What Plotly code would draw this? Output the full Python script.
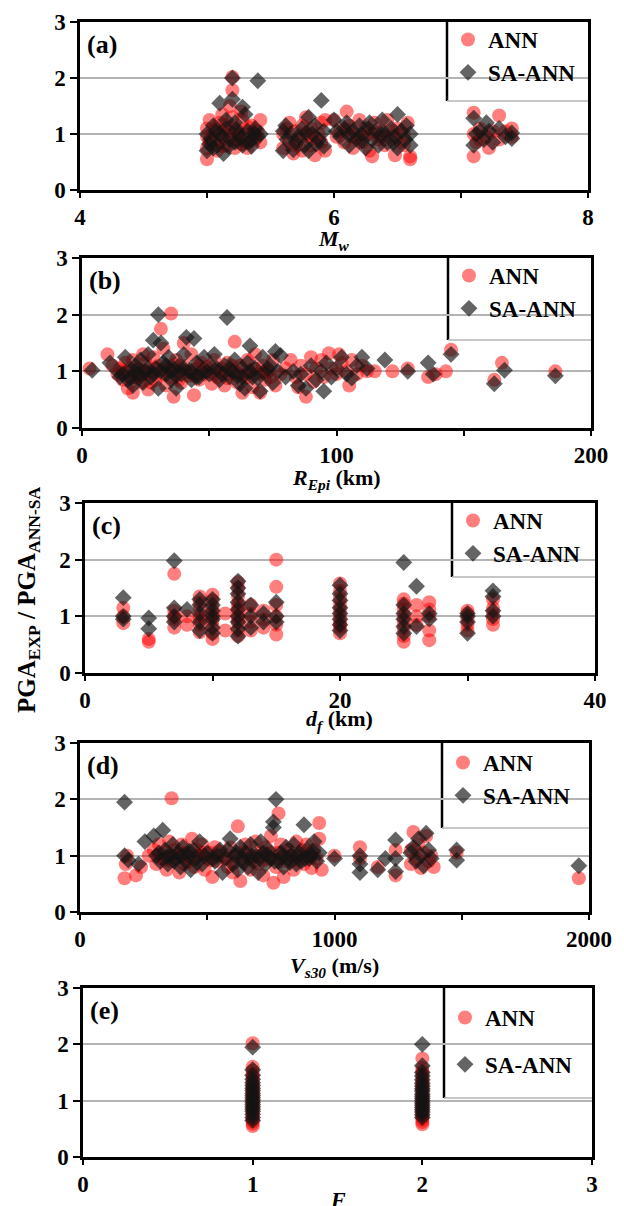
import plotly.graph_objects as go

W, H = 624, 1206
FONT = "Liberation Serif, Times New Roman, serif"

# ---------------- data (x, ratio) ----------------
a_ann = [(5.00,0.55),(5.00,0.75),(5.00,0.95),(5.00,1.10),(5.02,1.25),(5.05,0.85),(5.05,1.05),(5.08,0.70),
         (5.10,1.20),(5.10,0.90),(5.12,1.00),(5.15,0.80),(5.15,1.15),(5.18,0.95),(5.20,2.02),(5.20,1.78),
         (5.20,1.30),(5.22,1.10),(5.22,0.75),(5.25,0.90),(5.25,1.05),(5.28,1.25),(5.30,0.85),(5.30,1.00),
         (5.32,0.75),(5.35,1.15),(5.38,0.90),(5.40,1.05),(5.42,1.25),(5.42,0.85),(5.12,1.35),(5.18,1.50),
         (5.27,1.40),(5.02,0.88),(5.07,1.12),(5.13,0.78),(5.17,1.05),(5.23,0.95),(5.27,0.82),(5.33,1.12),
         (5.37,1.00),
         (5.60,0.75),(5.60,1.00),(5.62,1.10),(5.65,0.85),(5.68,0.65),(5.70,1.05),(5.72,0.90),(5.75,1.15),
         (5.75,0.70),(5.78,1.30),(5.80,0.95),(5.82,0.80),(5.82,1.10),(5.85,0.62),(5.88,1.00),(5.90,1.20),
         (5.90,0.85),(5.93,1.25),(5.93,0.70),(5.65,1.20),(5.70,0.80),(5.78,1.00),(5.86,0.92),
         (6.00,1.25),(6.05,1.05),(6.08,0.85),(6.10,1.40),(6.12,1.15),(6.15,0.95),(6.15,0.75),(6.18,1.00),
         (6.20,1.25),(6.22,0.85),(6.25,1.10),(6.28,0.70),(6.30,0.60),(6.30,1.00),(6.32,1.20),(6.35,0.90),
         (6.38,1.05),(6.40,0.80),(6.42,1.25),(6.45,0.95),(6.48,0.62),(6.50,1.10),(6.52,0.85),(6.55,1.00),
         (6.58,1.20),(6.60,0.60),(6.60,0.55),(6.02,0.95),(6.10,1.08),(6.20,0.92),(6.27,1.02),(6.37,0.95),
         (6.47,1.05),(6.55,0.80),
         (7.10,1.38),(7.10,0.60),(7.10,1.00),(7.12,0.85),(7.15,1.10),(7.20,0.95),(7.22,0.75),(7.25,1.05),
         (7.30,1.33),(7.30,0.90),(7.35,1.05),(7.40,1.10),(7.40,0.95),(7.15,0.90)]
a_sa = [(5.00,0.70),(5.00,1.00),(5.03,0.90),(5.05,1.15),(5.08,0.80),(5.10,1.55),(5.10,1.00),(5.13,0.65),
        (5.15,1.10),(5.18,0.90),(5.20,2.00),(5.20,1.62),(5.22,1.20),(5.22,0.85),(5.25,1.00),(5.28,1.48),
        (5.28,0.80),(5.30,1.35),(5.32,1.05),(5.35,0.90),(5.38,1.10),(5.40,1.95),(5.40,0.95),(5.42,1.00),
        (5.05,0.75),(5.15,1.25),(5.35,0.78),(5.02,0.82),(5.07,1.05),(5.12,0.95),(5.17,0.78),(5.23,1.08),
        (5.27,0.92),(5.33,0.85),(5.37,1.02),
        (5.60,0.70),(5.60,1.05),(5.63,0.90),(5.66,1.00),(5.68,0.72),(5.72,0.95),(5.75,1.10),(5.77,0.80),
        (5.80,1.30),(5.80,0.70),(5.83,1.00),(5.85,1.15),(5.88,0.90),(5.90,1.60),(5.92,1.05),(5.92,0.78),
        (5.62,1.15),(5.70,0.85),(5.78,1.02),(5.86,0.82),
        (6.00,1.25),(6.05,0.95),(6.08,1.10),(6.10,1.20),(6.12,0.80),(6.15,1.05),(6.18,0.90),(6.20,1.15),
        (6.22,1.00),(6.25,0.75),(6.28,1.20),(6.30,0.90),(6.33,1.05),(6.35,0.80),(6.38,1.25),(6.40,1.00),
        (6.42,0.85),(6.45,1.10),(6.48,0.95),(6.50,1.35),(6.50,0.75),(6.53,1.05),(6.56,0.90),(6.60,1.00),
        (6.60,0.80),(6.02,1.05),(6.12,0.98),(6.22,0.88),(6.27,1.10),(6.37,1.00),(6.47,0.85),(6.57,1.15),
        (7.10,1.28),(7.10,0.80),(7.12,1.00),(7.18,0.90),(7.20,1.20),(7.22,1.05),(7.25,0.85),(7.30,1.10),
        (7.35,0.95),(7.40,1.02),(7.40,0.92),(7.15,1.05)]

b_ann = [(3,1.05),(10,1.30),(12,1.10),(14,0.95),(15,1.05),(16,0.85),(17,1.15),(18,0.70),(18,1.00),(20,0.62),
         (20,1.20),(21,0.90),(22,1.05),(23,0.80),(24,1.30),(25,0.95),(25,1.15),(26,0.68),(27,1.00),(28,1.25),
         (29,0.85),(30,1.10),(31,1.75),(31,0.95),(32,1.40),(33,0.75),(34,1.05),(35,2.02),(35,0.90),(36,0.55),
         (37,1.20),(38,1.00),(39,0.80),(40,1.50),(40,1.10),(42,0.92),(43,1.30),(44,0.58),(45,1.05),(46,0.85),
         (47,1.15),(48,0.95),(50,1.00),(51,0.78),(52,1.20),(53,0.90),(55,1.05),(56,0.75),(57,1.15),(58,0.95),
         (60,1.52),(60,1.00),(61,0.80),(62,1.10),(63,0.62),(64,0.92),(65,1.20),(66,1.00),(67,0.72),(68,1.30),
         (69,0.95),(70,0.62),(71,1.10),(72,0.85),(73,1.00),(75,1.20),(76,0.75),(78,0.95),(80,1.05),(82,1.20),
         (84,0.90),(85,0.72),(86,1.10),(88,0.55),(88,0.95),(90,1.25),(91,0.82),(92,1.05),(94,1.20),(95,0.90),
         (97,1.32),(98,1.05),(100,0.95),(101,1.30),(102,1.15),(104,1.00),(105,0.75),(106,1.20),(108,0.95),
         (110,1.10),(112,1.00),(115,1.00),(122,1.00),(128,1.05),(136,0.90),(139,0.95),(143,1.00),(145,1.38),
         (162,0.85),(165,1.15),(186,1.00),
         (16,1.00),(19,0.90),(22,0.88),(24,1.00),(27,0.80),(29,1.05),(33,1.00),(36,1.12),(38,0.85),(41,1.00),
         (44,0.92),(46,1.10),(49,1.08),(52,0.95),(54,1.00),(57,0.88),(59,1.10),(62,0.95),(65,0.90),(68,1.05),
         (72,1.00),(74,0.90)]
b_sa = [(4,1.02),(11,1.15),(14,1.00),(15,0.90),(17,1.25),(18,0.85),(19,1.05),(20,0.75),(21,1.10),(22,0.95),
        (23,1.20),(24,0.80),(25,1.00),(26,1.30),(27,0.90),(28,1.55),(29,1.05),(30,2.00),(30,0.70),(31,1.50),
        (32,1.15),(33,0.95),(34,1.25),(35,0.85),(36,1.05),(37,0.70),(38,1.10),(39,0.95),(40,1.30),(41,1.60),
        (42,1.00),(43,0.85),(44,1.58),(45,1.15),(46,0.90),(47,1.00),(48,1.25),(50,0.95),(52,1.30),(53,1.05),
        (54,0.85),(56,1.10),(57,1.95),(58,0.90),(59,1.00),(60,1.20),(62,0.78),(63,1.05),(64,0.70),(65,1.15),
        (66,1.45),(67,0.90),(68,1.05),(70,0.65),(71,1.25),(72,0.95),(74,1.10),(75,0.80),(76,1.35),(77,1.00),
        (78,1.28),(80,0.90),(83,1.00),(85,0.75),(86,0.95),(88,0.70),(90,1.10),(92,0.85),(94,1.00),(95,0.65),
        (96,1.15),(98,0.90),(100,1.05),(102,1.25),(104,0.95),(106,0.88),(108,1.10),(110,1.25),(112,1.05),
        (119,1.20),(128,1.00),(136,1.15),(138,0.95),(145,1.30),(162,0.78),(166,1.02),(186,0.92),
        (16,0.95),(19,0.88),(21,1.00),(23,0.92),(26,1.05),(28,0.95),(31,1.00),(33,1.10),(35,1.00),(37,0.92),
        (40,1.05),(43,1.00),(45,0.90),(49,1.00),(51,1.08),(55,0.95),(58,1.05),(61,0.92),(63,0.90),(66,1.00),
        (69,0.88),(73,1.05)]

c_ann = [(3,1.15),(3,1.00),(3,0.88),(5,0.60),(5,0.55),(7,1.75),(7,1.10),(7,0.95),(7,0.80),(7,1.00),
         (8,0.85),(8,1.00),(9,0.72),(9,0.85),(9,1.00),(9,1.12),(9,1.25),(9,1.35),(9,0.95),
         (10,0.60),(10,0.70),(10,0.82),(10,0.92),(10,1.05),(10,1.15),(10,1.28),(10,1.38),(10,1.00),
         (11,0.75),(11,1.05),
         (12,0.65),(12,0.75),(12,0.88),(12,1.00),(12,1.10),(12,1.22),(12,1.35),(12,1.50),(12,1.60),(12,0.95),(12,1.15),
         (13,0.75),(13,0.90),(13,1.05),(13,1.20),(14,0.80),(14,0.95),(14,1.10),
         (15,2.00),(15,1.52),(15,1.20),(15,1.00),(15,0.85),(15,0.68),
         (20,0.70),(20,0.80),(20,0.90),(20,1.00),(20,1.10),(20,1.20),(20,1.32),(20,1.45),(20,1.58),(20,0.85),
         (25,0.55),(25,0.65),(25,0.78),(25,0.90),(25,1.00),(25,1.12),(25,1.22),(25,1.30),
         (26,1.20),(26,1.00),(26,0.85),(27,0.58),(27,0.75),(27,1.00),(27,1.25),(27,1.12),
         (30,0.75),(30,0.85),(30,0.95),(30,1.05),(30,1.10),
         (32,0.85),(32,0.95),(32,1.05),(32,1.15),(32,1.30)]
c_sa = [(3,1.33),(3,1.00),(3,0.95),(5,0.97),(5,0.78),(7,1.98),(7,1.15),(7,1.00),(7,0.90),(8,1.12),
        (9,0.75),(9,0.90),(9,1.05),(9,1.20),(9,1.30),
        (10,0.70),(10,0.80),(10,0.95),(10,1.10),(10,1.20),(10,1.30),(10,1.00),
        (12,0.65),(12,0.78),(12,0.90),(12,1.00),(12,1.12),(12,1.25),(12,1.40),(12,1.50),(12,1.62),
        (13,0.80),(13,1.00),(13,1.20),(14,1.05),(14,0.90),(15,1.25),(15,1.00),(15,0.90),
        (20,0.75),(20,0.85),(20,0.95),(20,1.05),(20,1.15),(20,1.28),(20,1.40),(20,1.55),
        (25,1.95),(25,0.70),(25,0.82),(25,0.95),(25,1.05),(25,1.20),(26,1.53),(26,0.82),
        (27,1.05),(27,0.95),(30,0.70),(30,0.90),(30,1.00),(30,1.05),
        (32,1.45),(32,1.35),(32,1.00),(32,1.10)]

d_ann = [(175,0.60),(180,0.85),(185,1.00),(220,0.65),(240,0.80),(270,1.00),(290,1.10),(300,0.85),(310,1.20),
         (320,0.95),(330,1.05),(340,0.75),(350,1.25),(360,2.02),(360,0.90),(370,1.10),(380,1.00),(390,0.70),
         (400,1.20),(410,0.85),(420,1.05),(430,0.95),(440,1.30),(450,0.80),(460,1.10),(470,1.00),(480,1.20),
         (490,0.75),(500,0.95),(510,1.05),(520,0.62),(530,1.15),(540,0.90),(560,1.00),(580,0.80),(590,1.15),
         (600,0.70),(610,1.00),(620,1.52),(630,0.55),(640,0.90),(650,1.20),(660,1.05),(670,0.75),(680,0.95),
         (690,1.25),(700,0.85),(710,1.05),(720,0.65),(730,1.15),(740,0.95),(750,1.35),(760,0.52),(770,0.80),
         (780,1.75),(780,1.05),(790,1.20),(800,0.62),(810,0.90),(820,1.10),(830,1.00),(840,0.75),(850,1.25),
         (860,0.95),(870,1.05),(880,0.85),(890,1.20),(900,1.00),(910,0.78),(920,1.10),(930,0.95),(940,1.58),
         (940,1.30),(950,0.75),(1000,1.00),(1100,1.15),(1100,0.95),(1170,0.80),(1240,1.10),(1240,0.65),
         (1300,0.85),(1300,1.10),(1310,1.42),(1320,0.95),(1330,1.20),(1340,0.78),(1350,1.05),(1360,1.35),
         (1370,0.90),(1380,1.00),(1390,0.80),(1480,1.05),(1960,0.60),
         (305,1.00),(335,0.92),(365,1.00),(395,1.05),(425,0.90),(455,1.00),(485,1.05),(515,0.92),(545,1.08),
         (575,0.95),(605,0.88),(635,1.05),(665,0.95),(695,1.00),(725,0.92),(755,1.05),(785,0.95),(815,1.00),
         (845,0.92),(875,1.10),(905,0.95)]
d_sa = [(175,1.95),(175,1.00),(190,0.92),(230,0.85),(255,1.25),(290,1.35),(300,1.00),(315,0.90),(325,1.45),
        (335,1.10),(345,0.85),(355,1.00),(365,1.20),(375,0.95),(385,1.05),(395,0.80),(405,1.15),(415,0.90),
        (425,1.00),(435,0.75),(445,1.10),(455,0.95),(470,1.25),(480,0.85),(500,1.05),(520,0.95),(540,1.00),
        (560,0.70),(580,1.10),(590,1.30),(600,0.85),(610,1.00),(620,0.75),(630,1.15),(640,0.95),(650,1.05),
        (660,0.80),(670,1.20),(680,0.90),(690,1.00),(700,0.70),(710,1.25),(720,1.05),(730,0.85),(740,1.10),
        (750,0.95),(760,1.60),(760,1.50),(770,2.00),(780,0.90),(790,1.05),(800,0.80),(810,1.15),(820,0.95),
        (830,1.00),(840,1.20),(850,0.85),(860,1.05),(870,0.90),(880,1.55),(890,1.10),(900,0.95),(910,1.00),
        (920,1.25),(930,0.90),(940,1.05),(1000,0.95),(1100,1.00),(1100,0.85),(1100,0.70),(1170,0.75),
        (1200,0.95),(1240,1.28),(1240,0.95),(1240,0.72),(1300,1.05),(1310,1.15),(1320,0.90),(1330,1.30),
        (1340,1.00),(1350,0.82),(1360,1.40),(1370,1.10),(1380,0.95),(1480,1.10),(1480,0.92),(1960,0.82),
        (310,1.05),(340,0.98),(370,0.90),(400,1.00),(430,1.08),(460,0.88),(490,1.00),(530,0.90),(550,1.10),
        (570,0.95),(615,1.05),(645,0.88),(675,1.00),(705,0.95),(735,1.02),(765,0.90),(795,1.00),(825,0.88),
        (855,1.00),(885,0.95),(915,1.08)]

e_ann = [(1,0.55),(1,0.59),(1,0.63),(1,0.68),(1,0.71),(1,0.75),(1,0.80),(1,0.83),(1,0.87),(1,0.91),(1,0.95),
         (1,0.99),(1,1.03),(1,1.06),(1,1.11),(1,1.15),(1,1.19),(1,1.23),(1,1.27),(1,1.32),(1,1.36),(1,1.41),
         (1,1.47),(1,1.53),(1,1.60),(1,2.02),
         (2,0.58),(2,0.62),(2,0.66),(2,0.71),(2,0.74),(2,0.79),(2,0.83),(2,0.86),(2,0.90),(2,0.94),(2,0.98),
         (2,1.02),(2,1.05),(2,1.09),(2,1.13),(2,1.18),(2,1.22),(2,1.26),(2,1.31),(2,1.35),(2,1.40),(2,1.46),
         (2,1.52),(2,1.58),(2,1.75)]
e_sa = [(1,0.65),(1,0.70),(1,0.76),(1,0.81),(1,0.85),(1,0.89),(1,0.93),(1,0.97),(1,1.01),(1,1.05),(1,1.09),
        (1,1.13),(1,1.18),(1,1.22),(1,1.27),(1,1.32),(1,1.38),(1,1.45),(1,1.55),(1,1.95),
        (2,0.70),(2,0.75),(2,0.80),(2,0.84),(2,0.88),(2,0.92),(2,0.96),(2,1.00),(2,1.04),(2,1.08),(2,1.12),
        (2,1.17),(2,1.21),(2,1.26),(2,1.31),(2,1.37),(2,1.44),(2,1.50),(2,1.62),(2,2.00)]

panel_labels = ["(a)", "(b)", "(c)", "(d)", "(e)"]
x_titles = ["<i>M<sub>w</sub></i>", "<i>R<sub>Epi</sub></i> (km)", "<i>d<sub>f</sub></i> (km)",
            "<i>V<sub>s30</sub></i> (m/s)", "<i>F</i>"]
x_ranges = [(4, 8), (0, 200), (0, 40), (0, 2000), (0, 3)]
x_dtick = [2, 100, 20, 1000, 1]
x_minor = [1, 50, 10, 500, None]
y_title = "PGA<sub>EXP</sub> / PGA<sub>ANN-SA</sub>"
series = [(a_ann, a_sa), (b_ann, b_sa), (c_ann, c_sa), (d_ann, d_sa), (e_ann, e_sa)]

# ---------------- layout geometry (pixels) ----------------
geo = [dict(l=80, r=588, t=22, b=190, lx=447, lb=101, gap=0, ly=-4, ty=240),
       dict(l=82, r=591, t=258, b=428, lx=448, lb=340, gap=0, ly=-4, ty=479),
       dict(l=85, r=595, t=503, b=673, lx=452, lb=577, gap=0, ly=-4, ty=720),
       dict(l=80, r=589, t=743, b=912, lx=442, lb=828, gap=0, ly=-2, ty=967),
       dict(l=83, r=592, t=988, b=1157, lx=444, lb=1098, gap=14, ly=8, ty=1199)]

def px(x):
    return x / W

def py(y):
    return 1 - y / H

fig = go.Figure()
layout = dict(width=W, height=H, margin=dict(l=0, r=0, t=0, b=0, autoexpand=False),
              paper_bgcolor="white", plot_bgcolor="white", showlegend=True,
              font=dict(family=FONT, size=22, color="black"))
shapes, annotations = [], []

for i, (g, (ann, sa)) in enumerate(zip(geo, series), start=1):
    xa = "x" if i == 1 else f"x{i}"
    ya = "y" if i == 1 else f"y{i}"
    leg = "legend" if i == 1 else f"legend{i}"
    for name, pts, mk in [
        ("ANN", ann, dict(symbol="circle", size=14, color="rgba(255,0,0,0.5)", line=dict(width=0))),
        ("SA-ANN", sa, dict(symbol="diamond", size=13, color="rgba(20,20,20,0.66)", line=dict(width=0))),
    ]:
        fig.add_trace(go.Scatter(x=[p[0] for p in pts], y=[p[1] for p in pts], mode="markers",
                                 name=name, marker=mk, xaxis=xa, yaxis=ya, legend=leg,
                                 legendgroup=f"{name}{i}", hoverinfo="x+y"))
    xkey = "xaxis" if i == 1 else f"xaxis{i}"
    ykey = "yaxis" if i == 1 else f"yaxis{i}"
    xax = dict(domain=[px(g["l"]), px(g["r"])], anchor=ya, range=list(x_ranges[i-1]),
               dtick=x_dtick[i-1], tick0=x_ranges[i-1][0], showgrid=False, zeroline=False,
               showline=True, linecolor="black", linewidth=2.5, mirror=True, automargin=False,
               ticks="outside", ticklen=5, tickwidth=2, tickcolor="black",
               tickfont=dict(family=FONT, size=23, weight="bold"))
    if x_minor[i-1]:
        xax["minor"] = dict(dtick=x_minor[i-1], tick0=x_ranges[i-1][0], ticks="outside",
                            ticklen=5, tickwidth=2, tickcolor="black", showgrid=False)
    layout[xkey] = xax
    layout[ykey] = dict(domain=[py(g["b"]), py(g["t"])], anchor=xa, range=[0, 3], dtick=1,
                        showgrid=True, gridcolor="#b4b4b4", gridwidth=1.5, zeroline=False,
                        showline=True, linecolor="black", linewidth=2.5, mirror=True, automargin=False,
                        ticks="outside", ticklen=7, tickwidth=2, tickcolor="black",
                        tickfont=dict(family=FONT, size=23, weight="bold"))
    layout[leg] = dict(x=px(g["lx"] + 1), y=py(g["t"] + g["ly"]), xanchor="left", yanchor="top",
                       bgcolor="rgba(0,0,0,0)", borderwidth=0, tracegroupgap=g["gap"],
                       font=dict(family=FONT, size=23, weight="bold"), itemsizing="trace")
    # legend box: white fill, black left edge, grey bottom edge
    shapes.append(dict(type="rect", xref="paper", yref="paper", x0=px(g["lx"]), x1=px(g["r"] - 1.5),
                       y0=py(g["lb"]), y1=py(g["t"] + 1.5), fillcolor="white", line=dict(width=0),
                       layer="between"))
    shapes.append(dict(type="line", xref="paper", yref="paper", x0=px(g["lx"]), x1=px(g["lx"]),
                       y0=py(g["lb"]), y1=py(g["t"]), line=dict(color="black", width=2.5), layer="between"))
    shapes.append(dict(type="line", xref="paper", yref="paper", x0=px(g["lx"]), x1=px(g["r"]),
                       y0=py(g["lb"]), y1=py(g["lb"]), line=dict(color="#b4b4b4", width=1.5),
                       layer="between"))
    annotations.append(dict(text=panel_labels[i-1], xref="paper", yref="paper",
                            x=px(g["l"] + 5), y=py(g["t"] + 22), xanchor="left", yanchor="middle",
                            showarrow=False, font=dict(family=FONT, size=26, weight="bold")))
    # x-axis title
    annotations.append(dict(text=x_titles[i-1], xref="paper", yref="paper",
                            x=px((g["l"] + g["r"]) / 2), y=py(g["ty"]), xanchor="center",
                            yanchor="middle", showarrow=False,
                            font=dict(family=FONT, size=22, weight="bold")))

annotations.append(dict(text=y_title, xref="paper", yref="paper", x=px(28), y=py(600),
                        xanchor="center", yanchor="middle", textangle=-90, showarrow=False,
                        font=dict(family=FONT, size=25, weight="bold")))
layout["shapes"] = shapes
layout["annotations"] = annotations
fig.update_layout(**layout)
fig.write_html("out.html", config={"displayModeBar": False},
               post_script="document.body.style.margin='0px';"
                           "document.documentElement.style.overflow='hidden';")
